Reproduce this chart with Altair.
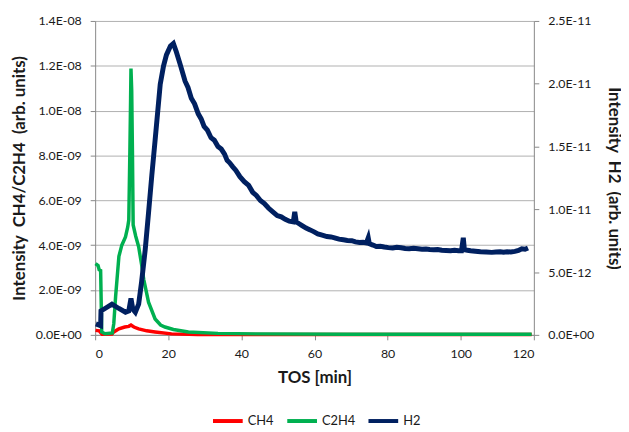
import altair as alt
import pandas as pd
import json

# ---- data ----
series_names = ["CH4", "C2H4", "H2"]
series_colors = ["#FF0000", "#00B050", "#002060"]

x_ticks = [0, 20, 40, 60, 80, 100, 120]
left_ticks = [0, 2e-9, 4e-9, 6e-9, 8e-9, 1e-8, 1.2e-8, 1.4e-8]
left_labels = ["0.0E+00", "2.0E-09", "4.0E-09", "6.0E-09", "8.0E-09", "1.0E-08", "1.2E-08", "1.4E-08"]
right_ticks = [0, 5e-12, 1e-11, 1.5e-11, 2e-11, 2.5e-11]
right_labels = ["0.0E+00", "5.0E-12", "1.0E-11", "1.5E-11", "2.0E-11", "2.5E-11"]

# CH4 (left axis, in units of 1E-09)
ch4_t = [0.1, 1.1, 1.9, 4.6, 5.1, 6.5, 8.1, 9.2, 9.8, 10.6, 11.9, 14.1, 16.4, 20.9, 28.0, 119.4]
ch4_e9 = [0.20, 0.18, 0.03, 0.04, 0.13, 0.27, 0.35, 0.38, 0.44, 0.35, 0.27, 0.18, 0.13, 0.045, 0.02, 0.02]

# C2H4 (left axis, in units of 1E-09)
c2h4_t = [0.1, 0.8, 1.1, 1.5, 1.8, 2.7, 4.7, 5.1, 5.6, 6.5, 7.3, 8.3, 8.9, 9.2, 9.5, 9.7, 9.8,
          10.0, 10.2, 10.4, 11.1, 11.9, 12.7, 13.3, 14.6, 16.4, 17.9, 19.1, 21.4, 25.5, 33.6, 44.0,
          69.0, 119.4]
c2h4_e9 = [3.18, 3.09, 2.90, 2.87, 0.13, 0.05, 0.09, 0.50, 1.72, 3.50, 4.00, 4.37, 4.80, 5.12, 8.2,
           10.55, 11.88, 10.9, 8.2, 4.9, 4.4, 3.93, 3.14, 2.47, 1.46, 0.71, 0.44, 0.35, 0.24, 0.13,
           0.066, 0.044, 0.03, 0.026]

# H2 (right axis, in units of 1E-12)
h2_t = [0.2, 1.5, 1.6, 2.7, 4.6, 6.5, 8.3, 9.2, 9.8, 10.3, 11.0, 11.9, 12.7, 13.7, 14.6, 15.5,
        16.4, 17.8, 18.7, 19.5, 20.6, 21.4, 22.2, 23.3, 24.6, 25.4, 26.3, 27.2, 28.2, 29.0, 29.8,
        30.7, 31.7, 32.6, 33.6, 34.5, 35.4, 36.1, 36.8, 37.6, 38.5, 39.6, 40.8, 42.0, 43.1, 44.1,
        45.2, 46.3, 47.4, 48.6, 49.8, 50.9, 52.0, 53.1, 54.2, 54.6, 55.0, 55.8, 56.6, 57.7, 58.8,
        59.9, 60.9, 62.1, 63.4, 64.5, 65.5, 66.7, 67.9, 69.0, 70.2, 71.2, 72.3, 73.3, 74.2, 74.7,
        75.0, 76.0, 76.9, 78.0, 79.1, 80.2, 81.4, 82.5, 83.7, 84.8, 85.9, 87.1, 88.3, 89.4, 90.5,
        91.5, 92.6, 93.7, 94.8, 96.0, 97.2, 98.3, 99.4, 100.2, 100.7, 101.0, 101.8, 102.7, 104.0,
        105.4, 107.0, 108.5, 109.6, 110.8, 111.7, 112.7, 113.7, 114.8, 115.8, 116.7, 117.6, 118.4]
h2_e12 = [0.87, 0.73, 1.90, 2.10, 2.45, 2.10, 1.80, 1.90, 2.90, 2.05, 1.80, 2.45, 4.2, 6.8, 9.7, 12.7,
          15.5, 19.95, 21.4, 22.3, 23.0, 23.2, 22.55, 21.5, 20.2, 19.7, 18.85, 18.4, 17.6, 17.2, 16.6,
          16.3, 15.7, 15.5, 15.0, 14.8, 14.4, 13.9, 13.7, 13.4, 13.1, 12.6, 12.2, 11.9, 11.35, 11.1,
          10.7, 10.45, 10.1, 9.8, 9.5, 9.4, 9.2, 9.05, 9.0, 9.8, 9.0, 8.85, 8.7, 8.5, 8.36,
          8.2, 8.04, 7.95, 7.83, 7.8, 7.73, 7.62, 7.57, 7.52, 7.5, 7.4, 7.36, 7.38, 7.33, 7.73,
          7.26, 7.15, 7.04, 7.06, 7.0, 6.95, 6.92, 6.98, 6.94, 6.88, 6.86, 6.9, 6.86, 6.82, 6.84,
          6.8, 6.78, 6.8, 6.74, 6.72, 6.7, 6.74, 6.7, 6.7, 7.73, 6.78, 6.74, 6.7, 6.66,
          6.62, 6.6, 6.57, 6.6, 6.62, 6.58, 6.62, 6.6, 6.65, 6.72, 6.86, 6.82, 6.92]

df_ch4 = pd.DataFrame({"TOS": ch4_t, "val": [v * 1e-9 for v in ch4_e9], "series": "CH4"})
df_c2h4 = pd.DataFrame({"TOS": c2h4_t, "val": [v * 1e-9 for v in c2h4_e9], "series": "C2H4"})
df_h2 = pd.DataFrame({"TOS": h2_t, "val": [v * 1e-12 for v in h2_e12], "series": "H2"})

FONT = "Lato"

color = alt.Color(
    "series:N",
    scale=alt.Scale(domain=series_names, range=series_colors),
    legend=alt.Legend(
        title=None, orient="none", legendX=117, legendY=387, direction="horizontal",
        symbolType="stroke", symbolSize=900, symbolStrokeWidth=4,
        labelFont=FONT, labelFontSize=13, labelColor="#1a1a1a", columnPadding=5, labelOffset=3,
    ),
)

x_enc = alt.X(
    "TOS:Q",
    scale=alt.Scale(domain=[0, 120], nice=False),
    axis=alt.Axis(values=x_ticks, title="TOS [min]", grid=False, labelPadding=8, titlePadding=10),
)

left_y = alt.Y(
    "val:Q",
    scale=alt.Scale(domain=[0, 1.4e-8], nice=False),
    axis=alt.Axis(
        orient="left", values=left_ticks,
        labelExpr=json.dumps(left_labels) + "[round(datum.value / 2e-9)]",
        title="Intensity\u00a0 CH4/C2H4\u00a0 (arb. units)",
        grid=True, labelPadding=9, titlePadding=7,
    ),
)

right_y = alt.Y(
    "val:Q",
    scale=alt.Scale(domain=[0, 2.5e-11], nice=False),
    axis=alt.Axis(
        orient="right", values=right_ticks,
        labelExpr=json.dumps(right_labels) + "[round(datum.value / 5e-12)]",
        title="Intensity\u00a0 H2\u00a0 (arb. units)",
        grid=False, labelPadding=9, titlePadding=11,
    ),
)

ch4_layer = alt.Chart(df_ch4).mark_line(strokeWidth=3.5).encode(x=x_enc, y=left_y, color=color)
c2h4_layer = alt.Chart(df_c2h4).mark_line(strokeWidth=3.5).encode(x=x_enc, y=left_y, color=color)
h2_layer = alt.Chart(df_h2).mark_line(strokeWidth=5).encode(x=x_enc, y=right_y, color=color)

left = alt.layer(ch4_layer, c2h4_layer)

chart = (
    alt.layer(left, h2_layer)
    .resolve_scale(y="independent")
    .properties(
        width=443, height=317,
        autosize=alt.AutoSizeParams(type="none"),
        padding={"left": 88, "top": 11, "right": 88, "bottom": 95},
        background="white",
    )
    .configure_view(stroke=None)
    .configure_axis(
        labelFont=FONT, titleFont=FONT, labelFontSize=12.5, titleFontSize=17, titleFontWeight="bold",
        labelColor="#1a1a1a", titleColor="#1a1a1a", domainColor="#888888", tickColor="#888888",
        gridColor="#b0b0b0", tickSize=5,
    )
)

chart.save("out.html", embed_options={"renderer": "svg", "actions": False})
